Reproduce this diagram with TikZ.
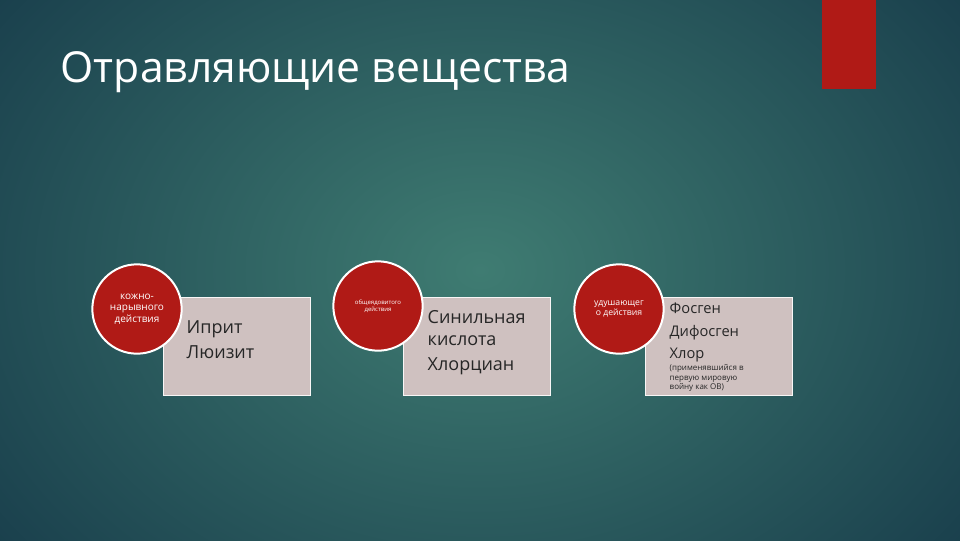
\documentclass[tikz,border=0pt]{standalone}
\usepackage{fontspec}
\setmainfont{Open Sans}
\usetikzlibrary{shadings}
\definecolor{bgin}{HTML}{3F7C72}
\definecolor{bgout}{HTML}{153848}
\definecolor{redc}{HTML}{B01A16}
\definecolor{boxc}{HTML}{CFC1C0}
\tikzset{
 x=0.75pt,y=-0.75pt,
 circ/.style={circle,fill=redc,draw=white,line width=1.5pt,minimum size=67pt,inner sep=1pt,align=center,text=white},
 box/.style={fill=boxc,draw=white!85!boxc,line width=0.6pt,minimum width=110pt,minimum height=73.5pt,anchor=north west},
 item/.style={anchor=north west,align=left,text=black!85,font=\fontsize{13.5}{19}\selectfont}
}
\begin{document}
\begin{tikzpicture}
\useasboundingbox (0,0) rectangle (960,540);
\shade[inner color=bgin,outer color=bgout] (-200,-250) rectangle (1160,790);
\fill[redc] (822,0) rectangle (876,89);
\node[anchor=base west,text=white,font=\fontsize{32}{34}\selectfont] (title) at (56,82) {Отравляющие вещества};
% group 1
\node[box] (b1) at (163,297) {};
\node[circ,font=\fontsize{7.5}{8.5}\selectfont] (c1) at (137,309) {кожно-\\нарывного\\действия};
\node[item] (t1) at (182,316) {Иприт\\Люизит};
% group 2
\node[box] (b2) at (403,297) {};
\node[circ,font=\fontsize{4.5}{5}\selectfont] (c2) at (378,306) {общеядовитого\\действия};
\node[item] (t2) at (423,306) {Синильная\\[-3pt]кислота\\Хлорциан};
% group 3
\node[box] (b3) at (645,297) {};
\node[circ,font=\fontsize{6.5}{7}\selectfont] (c3) at (619,309) {удушающег\\о действия};
\node[item,font=\fontsize{11}{17}\selectfont] (t3) at (665,298) {Фосген\\Дифосген\\Хлор};
\node[item,font=\fontsize{6}{7}\selectfont] (t4) at (665,360) {(применявшийся в\\первую мировую\\войну как ОВ)};
\end{tikzpicture}
\end{document}
